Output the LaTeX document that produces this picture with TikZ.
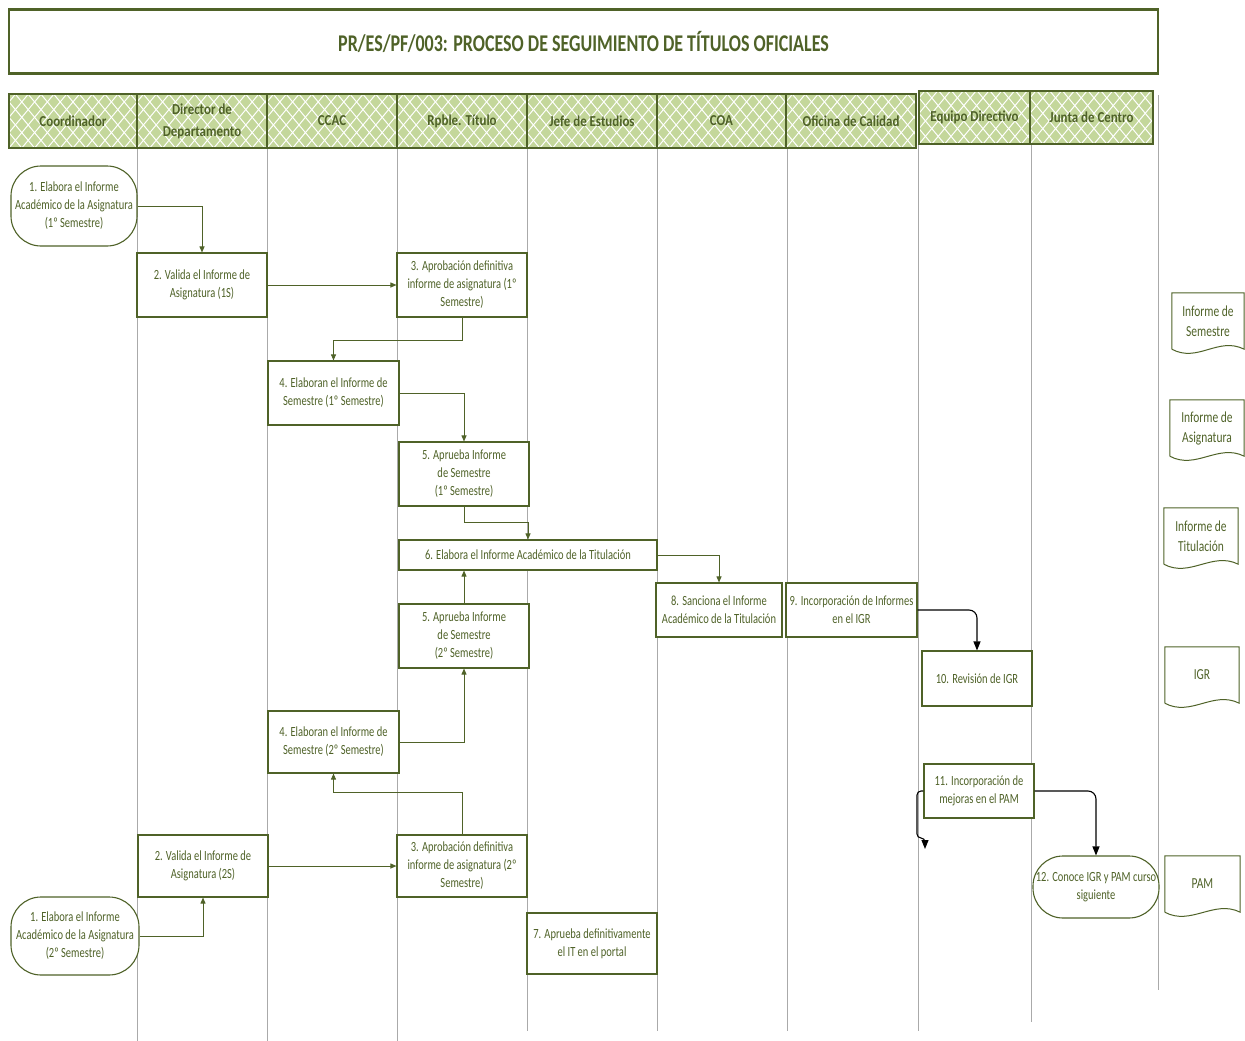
\documentclass[tikz,border=0pt]{standalone}
\usepackage{fontspec}
\setmainfont{Carlito}[FakeStretch=0.75]
\newfontfamily\boxfam{Carlito}[FakeStretch=0.75]
\newfontfamily\lanefam{Carlito}[FakeStretch=0.85]
\usetikzlibrary{arrows.meta,positioning}
\definecolor{olivedark}{RGB}{79,98,40}
\definecolor{hdrgreen}{RGB}{196,215,155}
\definecolor{lanegray}{RGB}{170,170,170}
\tikzset{
  lanehdr/.style={draw=olivedark, line width=1.8pt, fill=hdrgreen, inner sep=0pt,
    text=olivedark, align=center, font=\lanefam\bfseries\fontsize{15.2}{22}\selectfont,
    path picture={
      \foreach \k in {-4,...,14}{
        \draw[white, line width=1pt] ([xshift=\k*12.8pt]path picture bounding box.south west) -- ++(45pt,54pt);
        \draw[white, line width=1pt] ([xshift=\k*12.8pt]path picture bounding box.south west) -- ++(-45pt,54pt);
      }}},
  actbox/.style 2 args={draw=olivedark, line width=1.1pt, fill=white, inner sep=1pt,
    text=olivedark, align=center, font=\boxfam\fontsize{14}{18}\selectfont,
    minimum width=#1pt, minimum height=#2pt},
  termbox/.style 2 args={actbox={#1}{#2}, rounded corners=30pt},
  docnode/.style={inner sep=1pt, minimum width=73pt, minimum height=56pt,
    text=olivedark, align=center, font=\boxfam\fontsize{15.3}{20}\selectfont},
  lane/.style={draw=lanegray, line width=1pt},
  arr/.style={draw=olivedark, line width=0.9pt, -{Triangle[length=6pt,width=5pt]}},
  barr/.style={draw=black, line width=1.1pt, rounded corners=8pt, -{Triangle[length=9pt,width=7pt]}}
}
\newcommand{\docframe}[1]{%
  \draw[olivedark, line width=1pt] (#1.south west) -- (#1.north west) -- (#1.north east) -- (#1.south east)
    .. controls +(-26,-13) and +(26,14) .. (#1.south west);}
\begin{document}
\begin{tikzpicture}[x=1pt, y=-1pt]
\useasboundingbox (0,0) rectangle (1245,1041);

% titulo
\node[draw=olivedark, line width=2.4pt, minimum width=1149pt, minimum height=64pt,
  text=olivedark, font=\bfseries\fontsize{24}{26}\selectfont] (title) at (583.5,41.5)
  {PR/ES/PF/003: PROCESO DE SEGUIMIENTO DE TÍTULOS OFICIALES};

% carriles
\foreach \x/\yend in {137/1041, 267/1041, 397/1041, 527/1031, 657/1031, 787/1031}
  \draw[lane] (\x,148) -- (\x,\yend);
\foreach \x/\yend in {918/1031, 1031/1022}
  \draw[lane] (\x,144) -- (\x,\yend);
\draw[lane] (1158,95) -- (1158,990);

% cabeceras
\node[lanehdr, minimum width=128pt, minimum height=54pt] (hcoord) at (73,121) {Coordinador};
\node[lanehdr, minimum width=130pt, minimum height=54pt] (hdir) at (202,121) {Director de\\Departamento};
\node[lanehdr, minimum width=130pt, minimum height=54pt] (hccac) at (332,121) {CCAC};
\node[lanehdr, minimum width=130pt, minimum height=54pt] (hrt) at (462,121) {Rpble. Título};
\node[lanehdr, minimum width=130pt, minimum height=54pt] (hje) at (592,121) {Jefe de Estudios};
\node[lanehdr, minimum width=129pt, minimum height=54pt] (hcoa) at (721.5,121) {COA};
\node[lanehdr, minimum width=130pt, minimum height=54pt] (hoc) at (851,121) {Oficina de Calidad};
\node[lanehdr, minimum width=111pt, minimum height=53pt] (hed) at (974.5,117.5) {Equipo Directivo};
\node[lanehdr, minimum width=123pt, minimum height=53pt] (hjc) at (1091.5,117.5) {Junta de Centro};

% actividades
\node[termbox={126}{80}] (n1a) at (74,206) {1. Elabora el Informe\\Académico de la Asignatura\\(1º Semestre)};
\node[actbox={130}{64}] (n2a) at (202,285) {2. Valida el Informe de\\Asignatura (1S)};
\node[actbox={130}{64}] (n3a) at (462,285) {3. Aprobación definitiva\\informe de asignatura (1º\\Semestre)};
\node[actbox={131}{64}] (n4a) at (333.5,393) {4. Elaboran el Informe de\\Semestre (1º Semestre)};
\node[actbox={130}{64}] (n5a) at (464,474) {5. Aprueba Informe\\de Semestre\\(1º Semestre)};
\node[actbox={258}{30}] (n6) at (528,555) {6. Elabora el Informe Académico de la Titulación};
\node[actbox={130}{64}] (n5b) at (464,636) {5. Aprueba Informe\\de Semestre\\(2º Semestre)};
\node[actbox={126}{54}] (n8) at (719,610) {8. Sanciona el Informe\\Académico de la Titulación};
\node[actbox={131}{54}] (n9) at (851.5,610) {9. Incorporación de Informes\\en el IGR};
\node[actbox={110}{55}] (n10) at (977,678.5) {10. Revisión de IGR};
\node[actbox={131}{62}] (n4b) at (333.5,742) {4. Elaboran el Informe de\\Semestre (2º Semestre)};
\node[actbox={110}{54}] (n11) at (979,791) {11. Incorporación de\\mejoras en el PAM};
\node[actbox={130}{62}] (n2b) at (203,866) {2. Valida el Informe de\\Asignatura (2S)};
\node[actbox={130}{62}] (n3b) at (462,866) {3. Aprobación definitiva\\informe de asignatura (2º\\Semestre)};
\node[termbox={126}{62}] (n12) at (1096,887) {12. Conoce IGR y PAM curso\\siguiente};
\node[termbox={128}{78}] (n1b) at (75,936) {1. Elabora el Informe\\Académico de la Asignatura\\(2º Semestre)};
\node[actbox={130}{61}] (n7) at (592,943.5) {7. Aprueba definitivamente\\el IT en el portal};

% documentos
\node[docnode, minimum width=72pt] (dsem) at (1208,321) {Informe de\\Semestre};
\node[docnode, minimum width=74pt] (dasig) at (1207,428) {Informe de\\Asignatura};
\node[docnode, minimum width=74pt] (dtit) at (1201,536) {Informe de\\Titulación};
\node[docnode, minimum width=74pt] (digr) at (1202,675) {IGR};
\node[docnode, minimum width=75pt] (dpam) at (1202.5,884) {PAM};
\docframe{dsem}
\docframe{dasig}
\docframe{dtit}
\docframe{digr}
\docframe{dpam}

% flujo
\draw[arr] (n1a.east) -| (n2a.north);
\draw[arr] (n2a.east) -- (n3a.west);
\draw[arr] (n3a.south) -- ++(0,23) -| (n4a.north);
\draw[arr] (n4a.east) -| (n5a.north);
\draw[arr] (n5a.south) -- ++(0,16) -| (n6.north);
\draw[arr] (n6.east) -| (n8.north);
\draw[arr] (n5b.north) -- (n5b.north |- n6.south);
\draw[arr] (n4b.east) -| (n5b.south);
\draw[arr] (n3b.north) -- ++(0,-42) -| (n4b.south);
\draw[arr] (n2b.east) -- (n3b.west);
\draw[arr] (n1b.east) -| (n2b.south);
\draw[barr] (n9.east) -| (n10.north);
\draw[barr] (n11.east) -| (n12.north);
\coordinate (loopend) at (925,849);
\draw[barr, rounded corners=4pt] (n11.west) -- (917,791) -- (917,838) -- (925,838) -- (loopend);
\end{tikzpicture}
\end{document}
